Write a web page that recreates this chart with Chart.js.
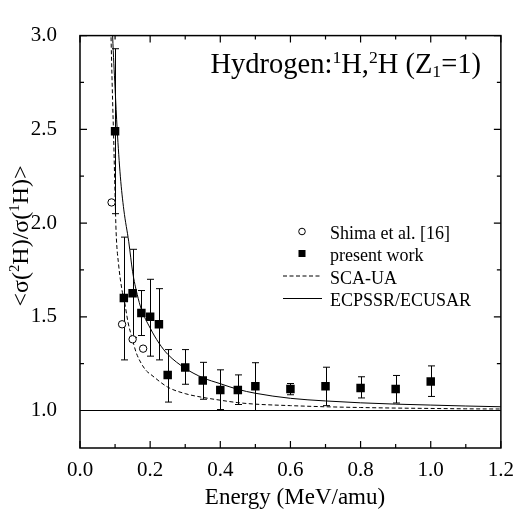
<!DOCTYPE html>
<html>
<head>
<meta charset="utf-8">
<script src="https://cdn.jsdelivr.net/npm/chart.js@4/dist/chart.umd.min.js"></script>
<style>
html,body{margin:0;padding:0;background:#fff;}
#wrap{width:524px;height:513px;position:relative;}
</style>
</head>
<body>
<div id="wrap"><canvas id="c" width="524" height="513"></canvas></div>
<script>
// ---------------- data ----------------
const presentX    = [0.10, 0.125, 0.15, 0.175, 0.20, 0.225, 0.25, 0.30, 0.35, 0.40, 0.45, 0.50, 0.60, 0.70, 0.80, 0.90, 1.00];
const presentY    = [2.49, 1.60, 1.625, 1.52, 1.50, 1.46, 1.19, 1.23, 1.16, 1.11, 1.11, 1.13, 1.115, 1.13, 1.12, 1.115, 1.155];
const presentHigh = [2.93, 1.925, 1.86, 1.64, 1.70, 1.65, 1.325, 1.325, 1.257, 1.217, 1.19, 1.255, 1.144, 1.231, 1.18, 1.187, 1.238];
const presentLow  = [2.05, 1.27, 1.39, 1.40, 1.29, 1.27, 1.045, 1.14, 1.06, 1.005, 1.032, 1.00, 1.084, 1.026, 1.067, 1.04, 1.075];

const shimaX = [0.09, 0.12, 0.15, 0.18];
const shimaY = [2.11, 1.46, 1.38, 1.33];

const ecpssrX = [0.088, 0.093, 0.100, 0.106, 0.115, 0.125, 0.139, 0.150, 0.163, 0.175, 0.200, 0.225, 0.250, 0.300, 0.350, 0.400, 0.450, 0.500, 0.600, 0.700, 0.800, 0.900, 1.000, 1.100, 1.200];
const ecpssrY = [3.30, 3.00, 2.72, 2.50, 2.25, 2.07, 1.90, 1.74, 1.62, 1.54, 1.44, 1.36, 1.30, 1.225, 1.175, 1.143, 1.113, 1.092, 1.065, 1.051, 1.041, 1.034, 1.029, 1.024, 1.020];

const scaX = [0.086, 0.089, 0.093, 0.096, 0.100, 0.103, 0.110, 0.120, 0.127, 0.137, 0.148, 0.160, 0.175, 0.190, 0.200, 0.250, 0.300, 0.350, 0.400, 0.450, 0.500, 0.600, 0.700, 0.800, 0.900, 1.000, 1.100, 1.200];
const scaY = [3.20, 2.95, 2.65, 2.45, 2.15, 1.95, 1.78, 1.64, 1.58, 1.47, 1.39, 1.31, 1.25, 1.21, 1.195, 1.125, 1.090, 1.070, 1.055, 1.042, 1.034, 1.026, 1.020, 1.016, 1.013, 1.011, 1.009, 1.008];

const refX = [0.0, 1.2];
const refY = [1.0, 1.0];

const xTickVals   = [0.0, 0.2, 0.4, 0.6, 0.8, 1.0, 1.2];
const xTickLabels = ['0.0', '0.2', '0.4', '0.6', '0.8', '1.0', '1.2'];
const xMinorVals  = [0.1, 0.3, 0.5, 0.7, 0.9, 1.1];
const yTickVals   = [1.0, 1.5, 2.0, 2.5, 3.0];
const yTickLabels = ['1.0', '1.5', '2.0', '2.5', '3.0'];
const yMinorVals  = [1.25, 1.75, 2.25, 2.75];

const seriesLabels = ['Shima et al. [16]', 'present work', 'SCA-UA', 'ECPSSR/ECUSAR'];

// ---------------- helpers ----------------
const FONT = "'Liberation Serif', 'Times New Roman', serif";
const pts = (xs, ys) => xs.map((x, i) => ({x: x, y: ys[i]}));

function richText(ctx, segs, x, y, size, align) {
  const parts = segs.map(s => {
    const fs = s.k ? size * 0.62 : size;
    ctx.font = fs + 'px ' + FONT;
    return {t: s.t, k: s.k, fs: fs, w: ctx.measureText(s.t).width};
  });
  const total = parts.reduce((a, p) => a + p.w, 0);
  let cx = align === 'right' ? x - total : (align === 'center' ? x - total / 2 : x);
  ctx.textAlign = 'left';
  ctx.textBaseline = 'alphabetic';
  for (const p of parts) {
    ctx.font = p.fs + 'px ' + FONT;
    const dy = p.k === 'sup' ? -size * 0.36 : (p.k === 'sub' ? size * 0.14 : 0);
    ctx.fillText(p.t, cx, y + dy);
    cx += p.w;
  }
}

// error bars, drawn through the scales
const errorBars = {
  id: 'errorBars',
  beforeDatasetsDraw(chart) {
    const ctx = chart.ctx, xs = chart.scales.x, ys = chart.scales.y, a = chart.chartArea;
    ctx.save();
    ctx.beginPath(); ctx.rect(a.left, a.top, a.right - a.left, a.bottom - a.top); ctx.clip();
    ctx.strokeStyle = '#000'; ctx.lineWidth = 1;
    presentX.forEach((xv, i) => {
      const px = Math.round(xs.getPixelForValue(xv)) + 0.5;
      const pt = ys.getPixelForValue(presentHigh[i]);
      const pb = ys.getPixelForValue(presentLow[i]);
      ctx.beginPath();
      ctx.moveTo(px, pt); ctx.lineTo(px, pb);
      ctx.moveTo(px - 3.5, pt); ctx.lineTo(px + 3.5, pt);
      ctx.moveTo(px - 3.5, pb); ctx.lineTo(px + 3.5, pb);
      ctx.stroke();
    });
    ctx.restore();
  }
};

// frame, inward ticks, titles, legend
const decorations = {
  id: 'decorations',
  afterDraw(chart) {
    const ctx = chart.ctx, xs = chart.scales.x, ys = chart.scales.y, a = chart.chartArea;
    ctx.save();
    ctx.strokeStyle = '#000'; ctx.fillStyle = '#000';
    ctx.lineWidth = 1.5;
    ctx.strokeRect(a.left, a.top, a.right - a.left, a.bottom - a.top);
    ctx.lineWidth = 1.2;
    ctx.beginPath();
    const tickX = (v, len) => {
      const p = xs.getPixelForValue(v);
      ctx.moveTo(p, a.bottom); ctx.lineTo(p, a.bottom - len);
      ctx.moveTo(p, a.top); ctx.lineTo(p, a.top + len);
    };
    const tickY = (v, len) => {
      const p = ys.getPixelForValue(v);
      ctx.moveTo(a.left, p); ctx.lineTo(a.left + len, p);
      ctx.moveTo(a.right, p); ctx.lineTo(a.right - len, p);
    };
    xTickVals.forEach(v => tickX(v, 7));
    xMinorVals.forEach(v => tickX(v, 4));
    yTickVals.forEach(v => tickY(v, 7));
    yMinorVals.forEach(v => tickY(v, 4));
    ctx.stroke();

    // annotation title
    richText(ctx, [{t: 'Hydrogen:'}, {t: '1', k: 'sup'}, {t: 'H,'}, {t: '2', k: 'sup'}, {t: 'H (Z'}, {t: '1', k: 'sub'}, {t: '=1)'}], 481, 73, 28.5, 'right');

    // x title
    richText(ctx, [{t: 'Energy (MeV/amu)'}], 295, 504, 23, 'center');

    // y title (rotated)
    ctx.save();
    ctx.translate(28, 236);
    ctx.rotate(-Math.PI / 2);
    richText(ctx, [{t: '<\u03C3('}, {t: '2', k: 'sup'}, {t: 'H)/\u03C3('}, {t: '1', k: 'sup'}, {t: 'H)>'}], 0, 0, 24, 'center');
    ctx.restore();

    // legend
    const lx = 302, tx = 330, rows = [238.5, 261, 283.5, 306];
    ctx.font = '18px ' + FONT;
    ctx.textAlign = 'left'; ctx.textBaseline = 'alphabetic';
    rows.forEach((b, i) => ctx.fillText(seriesLabels[i], tx, b));
    ctx.lineWidth = 1;
    ctx.beginPath(); ctx.arc(lx, rows[0] - 7, 3.3, 0, Math.PI * 2); ctx.fillStyle = '#fff'; ctx.fill(); ctx.stroke();
    ctx.fillStyle = '#000';
    ctx.fillRect(lx - 3.5, rows[1] - 11, 7, 7);
    ctx.beginPath(); ctx.setLineDash([4, 2.5]); ctx.moveTo(283, rows[2] - 7.5); ctx.lineTo(322, rows[2] - 7.5); ctx.stroke();
    ctx.setLineDash([]);
    ctx.beginPath(); ctx.moveTo(283, rows[3] - 7.5); ctx.lineTo(322, rows[3] - 7.5); ctx.stroke();
    ctx.restore();
  }
};

new Chart(document.getElementById('c'), {
  type: 'scatter',
  data: {
    datasets: [
      {label: seriesLabels[0], data: pts(shimaX, shimaY), pointStyle: 'circle', pointRadius: 3.7,
       pointBackgroundColor: '#fff', pointBorderColor: '#000', pointBorderWidth: 1, showLine: false},
      {label: seriesLabels[1], data: pts(presentX, presentY), pointStyle: 'rect', pointRadius: 6,
       pointBackgroundColor: '#000', pointBorderColor: '#000', pointBorderWidth: 0, showLine: false},
      {label: seriesLabels[2], type: 'line', data: pts(scaX, scaY), borderColor: '#000', borderWidth: 1,
       borderDash: [4, 2.5], pointRadius: 0, cubicInterpolationMode: 'monotone', fill: false},
      {label: seriesLabels[3], type: 'line', data: pts(ecpssrX, ecpssrY), borderColor: '#000', borderWidth: 1,
       pointRadius: 0, cubicInterpolationMode: 'monotone', fill: false},
      {label: 'ref', type: 'line', data: pts(refX, refY), borderColor: '#000', borderWidth: 1,
       pointRadius: 0, fill: false}
    ]
  },
  options: {
    responsive: false,
    animation: false,
    devicePixelRatio: 1,
    layout: {padding: {left: 0, top: 20, right: 15, bottom: 0}},
    plugins: {legend: {display: false}, tooltip: {enabled: false}},
    scales: {
      x: {
        type: 'linear', min: 0, max: 1.2,
        grid: {display: false, drawTicks: false}, border: {display: false},
        afterBuildTicks: s => { s.ticks = xTickVals.map(v => ({value: v})); },
        afterFit: s => { s.height = 65; },
        ticks: {callback: (v, i) => xTickLabels[i], autoSkip: false, maxRotation: 0,
                color: '#000', padding: 10, font: {family: FONT, size: 21}}
      },
      y: {
        type: 'linear', min: 0.8, max: 3.0,
        grid: {display: false, drawTicks: false}, border: {display: false},
        afterBuildTicks: s => { s.ticks = yTickVals.map(v => ({value: v})); },
        afterFit: s => { s.width = 80; },
        ticks: {callback: (v, i) => yTickLabels[i], autoSkip: false,
                color: '#000', padding: 23, font: {family: FONT, size: 21}}
      }
    }
  },
  plugins: [errorBars, decorations]
});
</script>
</body>
</html>
